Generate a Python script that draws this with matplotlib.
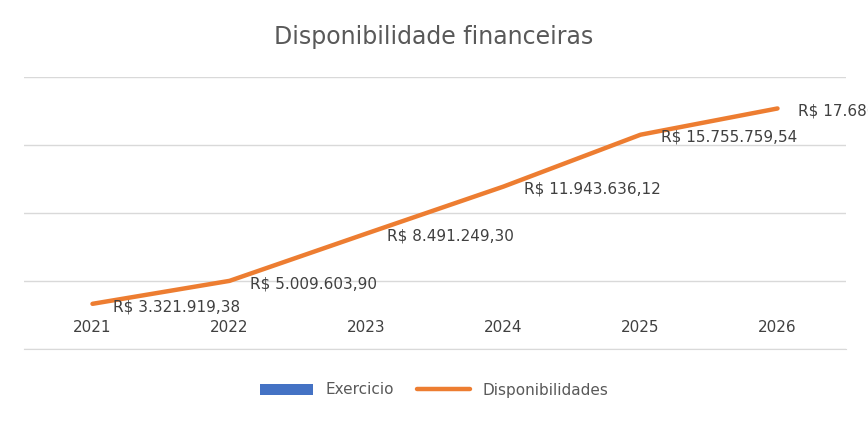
import matplotlib
matplotlib.use("Agg")
import matplotlib.pyplot as plt
import numpy as np

years = ["2021", "2022", "2023", "2024", "2025", "2026"]
exercicio = [2021, 2022, 2023, 2024, 2025, 2026]
disponibilidades = [3321919.38, 5009603.90, 8491249.30, 11943636.12, 15755759.54, 17686898.52]
labels = ["R$ 3.321.919,38", "R$ 5.009.603,90", "R$ 8.491.249,30",
          "R$ 11.943.636,12", "R$ 15.755.759,54", "R$ 17.686.898,52"]

fig = plt.figure(figsize=(8.68, 4.22), dpi=100)
ax = fig.add_axes([24/868, 1-349/422, 822/868, 272/422])
x = np.arange(len(years))
bars = ax.bar(x, exercicio, width=0.4, color="#4472C4", label="Exercicio")
line, = ax.plot(x, disponibilidades, color="#ED7D31", lw=3.2, label="Disponibilidades",
                solid_capstyle="round")
for xi, v in zip(x, exercicio):
    ax.annotate(str(v), (xi, v), xytext=(0, 10), textcoords="offset points",
                ha="center", va="bottom", fontsize=11, color="#404040")
for xi, v, l in zip(x, disponibilidades, labels):
    ax.annotate(l, (xi + 0.15, v), xytext=(0, -2), textcoords="offset points",
                ha="left", va="center", fontsize=11, color="#404040")
ax.set_xlim(-0.5, 5.5)
ax.set_ylim(0, 20e6)
ax.set_yticks([0, 5e6, 10e6, 15e6, 20e6])
ax.yaxis.grid(True, color="#D9D9D9", lw=1)
ax.set_axisbelow(True)
ax.set_xticks([])
ax.tick_params(left=False, labelleft=False)
for s in ["top", "right", "left"]:
    ax.spines[s].set_visible(False)
ax.spines["bottom"].set_color("#D9D9D9")
fig.text(0.5, 1-37/422, "Disponibilidade financeiras", ha="center", va="center",
         fontsize=17, color="#595959")
fig.legend(handles=[bars, line], labels=["Exercicio", "Disponibilidades"],
           loc="center", bbox_to_anchor=(0.5, 1-390/422), ncol=2, frameon=False,
           fontsize=11, labelcolor="#595959", handlelength=3.5, columnspacing=1.5)
fig.savefig("out.png", dpi=100)
